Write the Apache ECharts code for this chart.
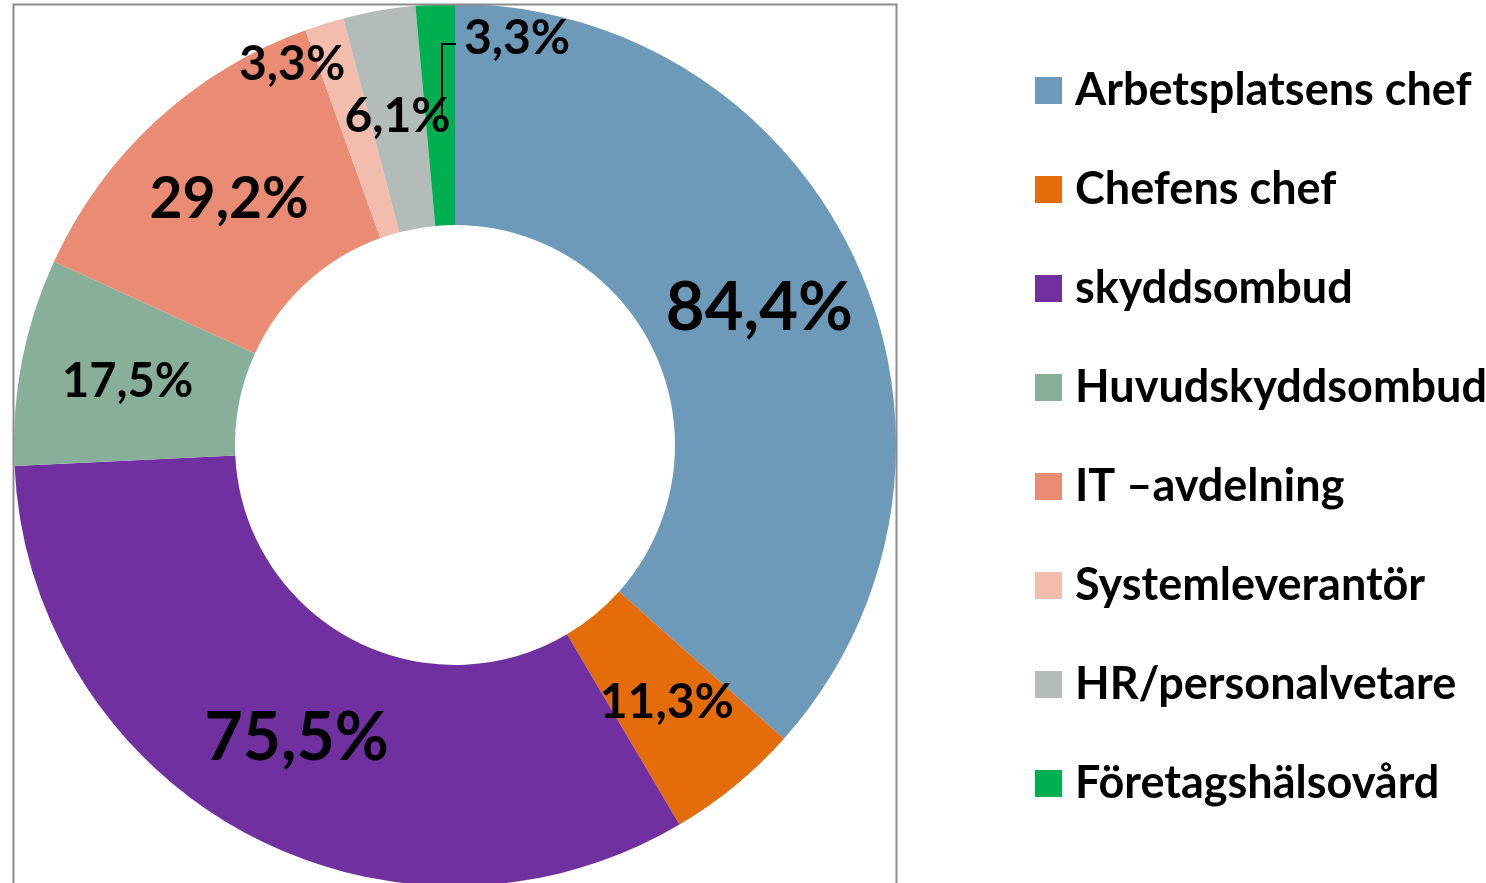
<!DOCTYPE html>
<html>
<head>
<meta charset="utf-8">
<script src="https://cdn.jsdelivr.net/npm/echarts@6/dist/echarts.min.js"></script>
<style>
  html, body { margin: 0; padding: 0; background: #fff; }
  #chart { width: 1486px; height: 883px; }
</style>
</head>
<body>
<div id="chart"></div>
<script>
// data
var categories = [
    "Arbetsplatsens chef",
    "Chefens chef",
    "skyddsombud",
    "Huvudskyddsombud",
    "IT \u2013avdelning",
    "Systemleverantör",
    "HR/personalvetare",
    "Företagshälsovård"
];
var values = [84.4, 11.3, 75.5, 17.5, 29.2, 3.3, 6.1, 3.3];

// utseende
var colors = ["#6D9AB9", "#E46C0A", "#7030A0", "#87AF9A", "#EA8B73", "#F2BDAD", "#B4BCBA", "#00B050"];
var labelSizes = [67, 48, 66, 47, 57, 48, 48, 48];

function displayChart() {
    var myChart = echarts.init(document.getElementById('chart'));
    var font = 'Lato';

    var pieData = categories.map(function (name, i) {
        var item = {
            name: name,
            value: values[i],
            itemStyle: { color: colors[i] },
            label: { fontSize: labelSizes[i] }
        };
        // flyttade etiketter (som i originalet)
        if (i === 5) {
            item.label.offset = [-64, -62];
        }
        if (i === 7) {
            item.label.offset = [77, -73];
        }
        return item;
    });

    var option = {
        animation: false,
        color: colors,
        legend: {
            orient: 'vertical',
            left: 1035,
            top: 68,
            padding: 0,
            itemWidth: 27,
            itemHeight: 27,
            itemGap: 54,
            icon: 'rect',
            data: categories,
            textStyle: {
                fontFamily: font,
                fontWeight: 'bold',
                fontSize: 45,
                lineHeight: 41,
                color: '#000',
                padding: [0, 0, 0, 8]
            }
        },
        graphic: [{
            type: 'rect',
            shape: { x: 13.5, y: 4.5, width: 883, height: 900 },
            style: { fill: 'none', stroke: '#8c8c8c', lineWidth: 2 },
            z: 100
        }, {
            // ledlinje till sista etiketten
            type: 'polyline',
            shape: { points: [[442, 118], [442, 44], [456, 44]] },
            style: { fill: 'none', stroke: '#000', lineWidth: 2 },
            z: 100
        }],
        series: [{
            type: 'pie',
            center: [455, 445],
            radius: [220, 441],
            startAngle: 90,
            clockwise: true,
            avoidLabelOverlap: false,
            itemStyle: { borderWidth: 0 },
            label: {
                show: true,
                position: 'inside',
                color: '#000',
                fontFamily: font,
                fontWeight: 'bold',
                formatter: function (p) {
                    return p.value.toFixed(1).replace('.', ',') + '%';
                }
            },
            emphasis: { disabled: true },
            data: pieData
        }]
    };

    myChart.setOption(option);
    window.addEventListener("resize", function () {
        myChart.resize();
    });
}
displayChart();
</script>
</body>
</html>
